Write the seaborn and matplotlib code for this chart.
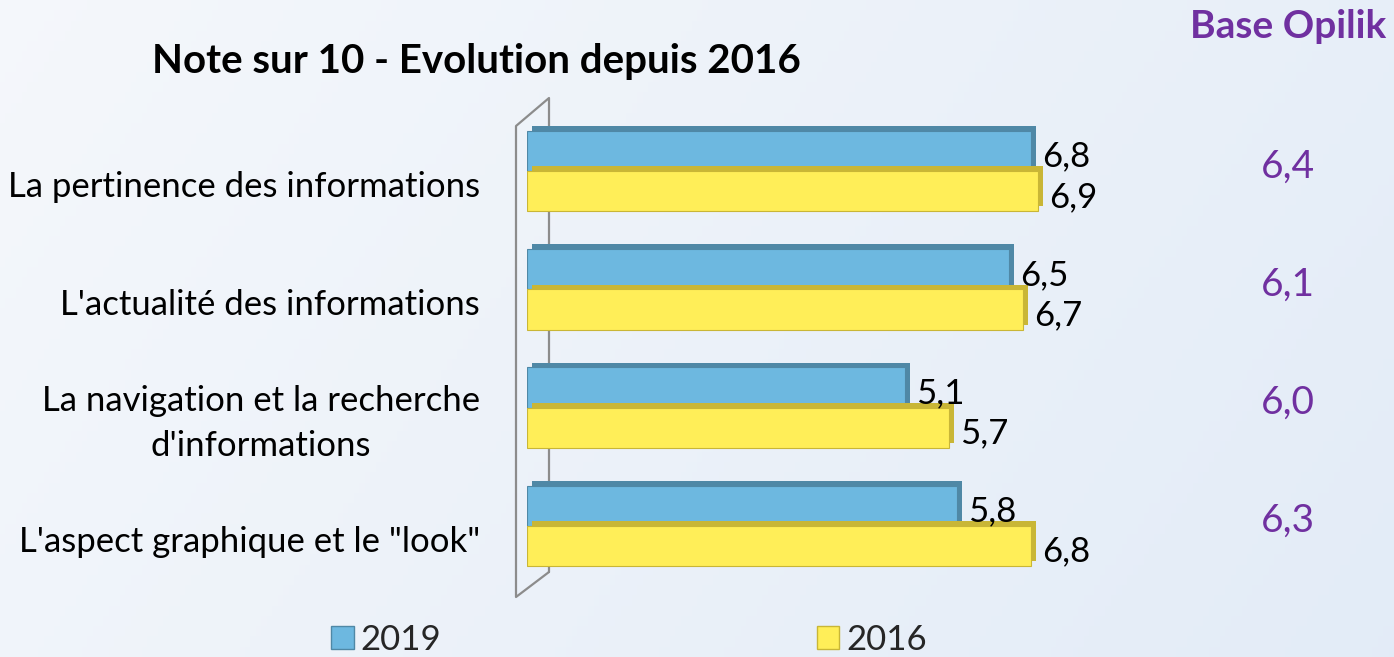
import numpy as np
import pandas as pd
import matplotlib
matplotlib.use("Agg")
import matplotlib.pyplot as plt
import matplotlib.patheffects as pe
import matplotlib.transforms as mtransforms
from matplotlib.lines import Line2D
from matplotlib.patches import Patch
import seaborn as sns

categories = ["La pertinence des informations",
              "L'actualité des informations",
              "La navigation et la recherche\nd'informations",
              "L'aspect graphique et le \"look\""]
years = ["2019", "2016"]
values_2019 = [6.8, 6.5, 5.1, 5.8]
values_2016 = [6.9, 6.7, 5.7, 6.8]
base_opilik = [6.4, 6.1, 6.0, 6.3]

def fr(v):
    return f"{v:.1f}".replace(".", ",")

df = pd.DataFrame({
    "category": categories * 2,
    "year": [years[0]] * 4 + [years[1]] * 4,
    "value": values_2019 + values_2016,
})

sns.set_theme(style="white")
plt.rcParams["font.family"] = ["Lato", "DejaVu Sans"]

W, H = 1394, 657
fig = plt.figure(figsize=(W / 100, H / 100), dpi=100)

# background gradient
bg = fig.add_axes([0, 0, 1, 1], zorder=-10)
gx = np.linspace(0, 1, 256)
gy = np.linspace(0, 1, 64)
GX, GY = np.meshgrid(gx, gy)
c0 = np.array([0.96, 0.97, 0.985])
c1 = np.array([0.89, 0.925, 0.97])
t = np.clip(0.75 * GX + 0.25 * (1 - GY), 0, 1)[..., None]
img = c0 * (1 - t) + c1 * t
bg.imshow(img, aspect="auto", extent=[0, 1, 0, 1], origin="lower")
bg.axis("off")

def fx(px):
    return px / W

def fy(py):
    return 1 - py / H

ax_left, ax_right = 527, 1268
ax_top, ax_bot = 112, 585
ax = fig.add_axes([fx(ax_left), fy(ax_bot), fx(ax_right) - fx(ax_left), (ax_bot - ax_top) / H])
ax.patch.set_alpha(0)

palette = {"2019": "#6db8e0", "2016": "#ffee58"}
sns.barplot(data=df, y="category", x="value", hue="year", orient="h",
            palette=palette, width=0.68, ax=ax, legend=False,
            saturation=1, edgecolor="none")

shadow_cols = {"2019": "#4f88a6", "2016": "#c9b636"}
for cont, yr in zip(ax.containers, years):
    for bar in cont:
        bar.set_path_effects([
            pe.SimplePatchShadow(offset=(3.5, 3.5), shadow_rgbFace=shadow_cols[yr], alpha=1.0),
            pe.Normal(),
        ])
        bar.set_edgecolor(shadow_cols[yr])
        bar.set_linewidth(0.8)
    anns = ax.bar_label(cont, labels=[fr(v) for v in cont.datavalues], padding=8,
                        fontsize=25, color="black")
    for a in anns:
        a.xyann = (a.xyann[0], -4)

ax.set_xlim(0, 10)
ax.set_ylim(3.5, -0.5)
ax.set_xlabel("")
ax.set_ylabel("")
ax.set_xticks([])
for s in ax.spines.values():
    s.set_visible(False)
ax.tick_params(axis="y", length=0, pad=34, labelsize=25)
for lbl in ax.get_yticklabels():
    dy = -6 if "\n" in lbl.get_text() else -13
    shift = mtransforms.ScaledTranslation(0, dy / 100, fig.dpi_scale_trans)
    lbl.set_multialignment("center")
    lbl.set_linespacing(1.5)
    lbl.set_color("black")
    lbl.set_transform(lbl.get_transform() + shift)

# 3D wall
wall = [(549, 572), (549, 98), (516, 126), (516, 597), (549, 572)]
fig.add_artist(Line2D([fx(p[0]) for p in wall], [fy(p[1]) for p in wall],
                      color="#8c8c8c", lw=1.6, transform=fig.transFigure, zorder=-1))

# title
fig.text(fx(476), fy(62), "Note sur 10 - Evolution depuis 2016", ha="center", va="center",
         fontsize=29, fontweight="bold", color="black")

# Base Opilik
fig.text(fx(1386), fy(27), "Base Opilik", ha="right", va="center",
         fontsize=28, fontweight="bold", color="#7030a0")
blend = mtransforms.blended_transform_factory(fig.transFigure, ax.transData)
for i, v in enumerate(base_opilik):
    ax.text(fx(1288), i - 0.04, fr(v), transform=blend,
            ha="center", va="center", fontsize=28, color="#7030a0")

# legend
handles = [Patch(facecolor=palette[y], edgecolor=shadow_cols[y], label=y) for y in years]
fig.legend(handles=handles, loc="center", bbox_to_anchor=(fx(629), fy(640)), ncol=2,
           frameon=False, fontsize=25, columnspacing=10.8, handlelength=0.65,
           handleheight=0.65, handletextpad=0.2)

fig.savefig("out.png", dpi=100)
